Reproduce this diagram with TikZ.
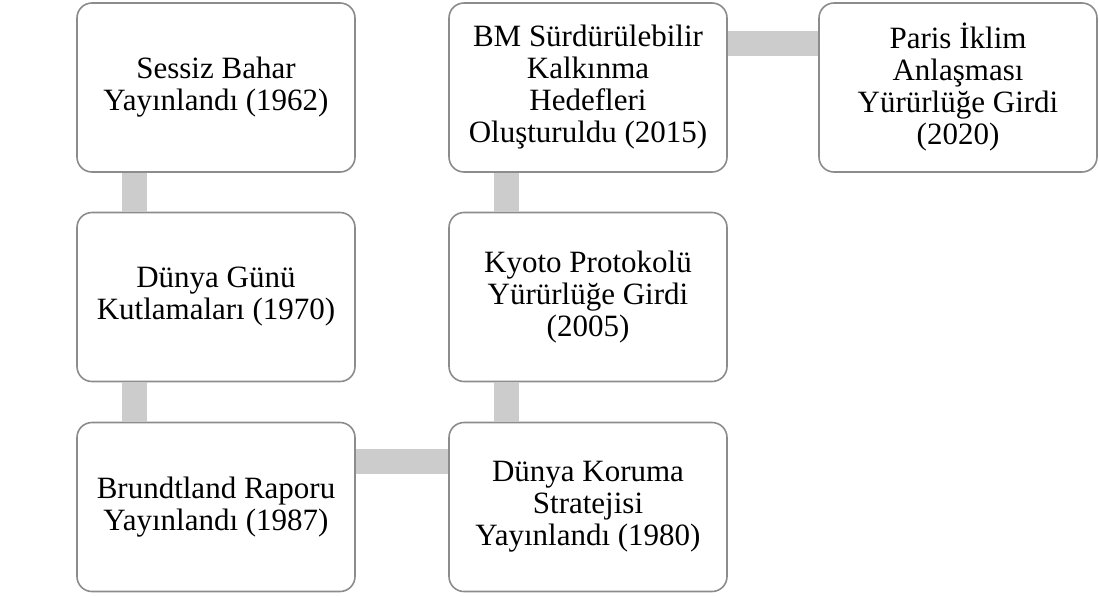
\documentclass[tikz,border=0pt]{standalone}
\usepackage{fontspec}
\setmainfont{Liberation Serif}
\usepackage{tikz}

\definecolor{boxline}{HTML}{8C8C8C}
\definecolor{barfill}{HTML}{CCCCCC}

\begin{document}
\begin{tikzpicture}[x=1pt,y=-1pt,
    event/.style={draw=boxline, line width=1.6pt, rounded corners=15pt, fill=white,
      minimum width=278pt, minimum height=169pt, inner sep=0pt, align=center,
      font=\fontsize{31}{32}\selectfont},
    bar/.style={barfill, line width=25pt}]
    \useasboundingbox (0,0) rectangle (1099,595);

    \node (sessiz)     at (216,87.5) [event] {Sessiz Bahar\\Yayınlandı (1962)};
    \node (gunu)       at (216,297)  [event] {Dünya Günü\\Kutlamaları (1970)};
    \node (brundtland) at (216,507)  [event] {Brundtland Raporu\\Yayınlandı (1987)};
    \node (koruma)     at (588,507)  [event] {Dünya Koruma\\Stratejisi\\Yayınlandı (1980)};
    \node (kyoto)      at (588,297)  [event] {Kyoto Protokolü\\Yürürlüğe Girdi\\(2005)};
    \node (bm)         at (588,87.5) [event] {BM Sürdürülebilir\\Kalkınma\\Hedefleri\\Oluşturuldu (2015)};
    \node (paris)      at (958,87.5) [event] {Paris İklim\\Anlaşması\\Yürürlüğe Girdi\\(2020)};

    \draw[bar] ([xshift=58pt]sessiz.south west) -- ([xshift=58pt]gunu.north west);
    \draw[bar] ([xshift=58pt]gunu.south west) -- ([xshift=58pt]brundtland.north west);
    \draw[bar] ([yshift=-40pt]brundtland.north east) -- ([yshift=-40pt]koruma.north west);
    \draw[bar] ([xshift=58pt]koruma.north west) -- ([xshift=58pt]kyoto.south west);
    \draw[bar] ([xshift=58pt]kyoto.north west) -- ([xshift=58pt]bm.south west);
    \draw[bar] ([yshift=-41pt]bm.north east) -- ([yshift=-41pt]paris.north west);
  \end{tikzpicture}
\end{document}
